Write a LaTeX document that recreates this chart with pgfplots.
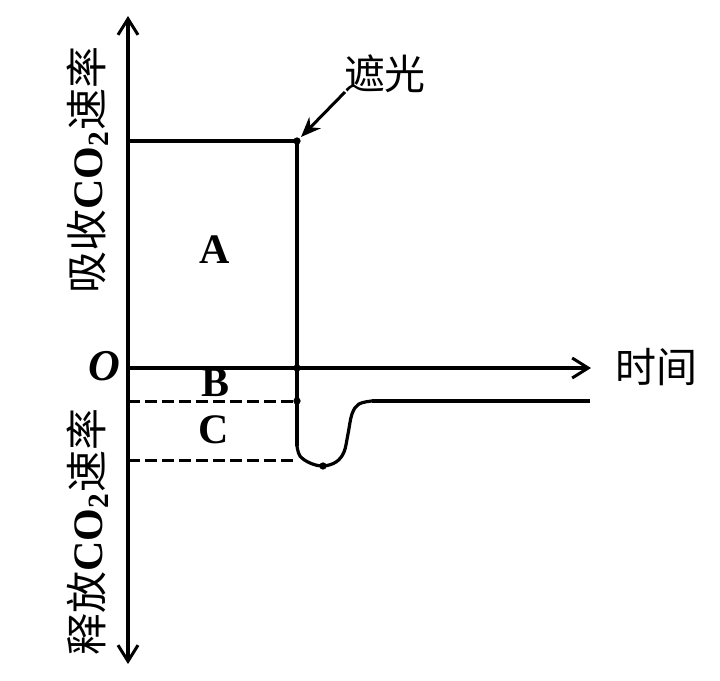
\documentclass[border=0pt]{standalone}
\usepackage{pgfplots}
\pgfplotsset{compat=1.18}
\usetikzlibrary{arrows.meta}
\usepackage{fontspec}
\setmainfont{Liberation Serif}
\newfontfamily\cjk{Noto Sans CJK SC}
\begin{document}
\begin{tikzpicture}
\begin{axis}[
  width=360pt, height=340.5pt, scale only axis,
  xmin=0, xmax=720, ymin=0, ymax=681, y dir=reverse,
  hide axis, clip=false,
]
% frame for the bounding box
\addplot[draw=none, forget plot] coordinates {(0,0) (720,681)};
% axes
\addplot[black, line width=1.9pt, {Straight Barb[length=8pt,width=10pt,line width=1.5pt]}-{Straight Barb[length=8pt,width=10pt,line width=1.5pt]}] coordinates {(128,664) (128,16)};
\addplot[black, line width=1.9pt, -{Straight Barb[length=8pt,width=10pt,line width=1.5pt]}] coordinates {(128,368) (591,368)};
% dashed
\addplot[black, line width=1.5pt, dash pattern=on 6pt off 2.5pt] coordinates {(128,401) (297,401)};
\addplot[black, line width=1.5pt, dash pattern=on 6pt off 2.5pt] coordinates {(128,460) (297,460)};
% main line
\addplot[black, line width=1.6pt] coordinates {(128,141) (297,141) (297,446)};
\addplot[black, line width=1.6pt, smooth, tension=0.6] coordinates {(297,446) (300,456) (310,463) (323,466) (336,462) (344,452) (348,434) (352,414) (359,404) (372,401)};
\addplot[black, line width=1.6pt] coordinates {(372,401) (590,401)};
% dots
\addplot[only marks, mark=*, mark size=1.6pt, black] coordinates {(297,141) (297,368) (297,401) (323,466)};
% shading arrow
\addplot[black, line width=1.5pt, -{Stealth[length=10pt,width=8pt]}] coordinates {(345,92) (301,137)};
% labels
\node[font=\fontsize{21}{21}\selectfont\bfseries] at (axis cs:215,250) {A};
\node[font=\fontsize{21}{21}\selectfont\bfseries] at (axis cs:216,383) {B};
\node[font=\fontsize{21}{21}\selectfont\bfseries] at (axis cs:214,430) {C};
\node[font=\fontsize{22}{22}\selectfont\bfseries\itshape] at (axis cs:104,366) {O};
\node[font=\fontsize{20.5}{21}\selectfont\cjk] at (axis cs:657,367) {时间};
\node[font=\fontsize{20.5}{21}\selectfont\cjk] at (axis cs:385,74) {遮光};
\node[rotate=90, font=\fontsize{21}{21}\selectfont] at (axis cs:88,170) {{\cjk 吸收}\textbf{CO\textsubscript{2}}{\cjk 速率}};
\node[rotate=90, font=\fontsize{21}{21}\selectfont] at (axis cs:88,532) {{\cjk 释放}\textbf{CO\textsubscript{2}}{\cjk 速率}};
\end{axis}
\end{tikzpicture}
\end{document}
